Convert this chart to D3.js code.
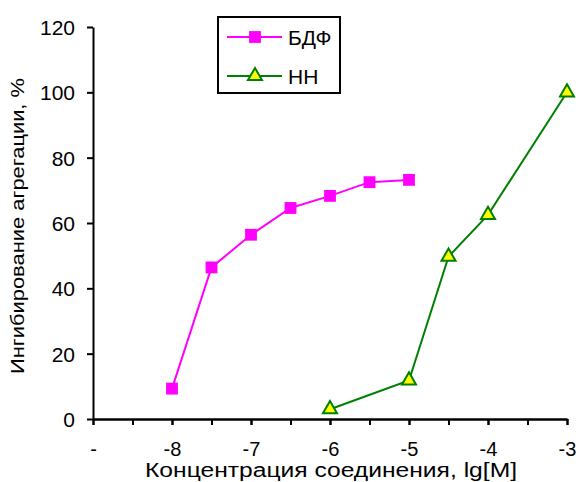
<!DOCTYPE html>
<html>
<head>
<meta charset="utf-8">
<script src="https://cdn.jsdelivr.net/npm/d3@7"></script>
<style>
  body { margin: 0; background: #fff; }
  text { font-family: "Liberation Sans", Arial, sans-serif; fill: #000; }
</style>
</head>
<body>
<svg id="drawing_region"></svg>
<script>
// data
const bdf_x = [-8, -7.5, -7, -6.5, -6, -5.5, -5];
const bdf_y = [9.3, 46.4, 56.4, 64.6, 68.3, 72.5, 73.2];
const nn_x = [-6, -5, -4.5, -4, -3];
const nn_y = [3, 11.8, 49.7, 62.5, 100];
const series_names = ['БДФ', 'НН'];
const x_ticks = [-9, -8, -7, -6, -5, -4, -3];
const x_tick_labels = ['-', '-8', '-7', '-6', '-5', '-4', '-3'];
const y_ticks = [0, 20, 40, 60, 80, 100, 120];

const width = 579, height = 482;
const margin = {top: 27, right: 12, bottom: 63, left: 93};

const svg = d3.select('#drawing_region')
    .attr('width', width)
    .attr('height', height);

const chart = svg.append('g')
    .attr('transform', `translate(${margin.left}, ${margin.top})`);

const inner_height = height - margin.top - margin.bottom;

const x_scale = d3.scaleLinear()
    .domain([-9, -3])
    .range([0, 474]);

const y_scale = d3.scaleLinear()
    .domain([0, 120])
    .range([inner_height, 0]);

// x axis: ticks every 0.5, labels every 1
const xaxis_minor = d3.axisBottom(x_scale)
    .tickValues(d3.range(-9, -2.99, 0.5))
    .tickSize(6).tickSizeOuter(0).tickFormat('');

const xaxis = d3.axisBottom(x_scale)
    .tickValues(x_ticks)
    .tickSize(6).tickSizeOuter(0).tickPadding(17)
    .tickFormat((d, i) => x_tick_labels[i]);

const yaxis = d3.axisLeft(y_scale)
    .tickValues(y_ticks)
    .tickSize(6).tickSizeOuter(0).tickPadding(12);

const xg = chart.append('g')
    .attr('transform', `translate(0, ${inner_height})`)
    .call(xaxis);
chart.append('g')
    .attr('transform', `translate(0, ${inner_height})`)
    .call(xaxis_minor);
const yg = chart.append('g').call(yaxis);

chart.selectAll('.domain').attr('stroke', '#000').attr('stroke-width', 2);
chart.selectAll('.tick line').attr('stroke', '#000').attr('stroke-width', 2);

xg.selectAll('text').style('font-size', '20px');
yg.selectAll('text').style('font-size', '21px').attr('dy', '0.36em');

// axis titles
svg.append('text')
    .attr('x', 145)
    .attr('y', 477)
    .attr('textLength', 372)
    .attr('lengthAdjust', 'spacingAndGlyphs')
    .style('font-size', '20px')
    .text('Концентрация соединения, lg[M]');

svg.append('text')
    .attr('transform', `translate(24, 374) rotate(-90)`)
    .attr('textLength', 296)
    .attr('lengthAdjust', 'spacingAndGlyphs')
    .style('font-size', '19px')
    .text('Ингибирование агрегации, %');

// lines
const line = d3.line()
    .x(d => x_scale(d[0]))
    .y(d => y_scale(d[1]));

const bdf = bdf_x.map((x, i) => [x, bdf_y[i]]);
const nn = nn_x.map((x, i) => [x, nn_y[i]]);

chart.append('path')
    .datum(bdf)
    .attr('d', line)
    .attr('fill', 'none')
    .attr('stroke', '#ff00ff')
    .attr('stroke-width', 2);

chart.append('path')
    .datum(nn)
    .attr('d', line)
    .attr('fill', 'none')
    .attr('stroke', '#008000')
    .attr('stroke-width', 2);

const square = d3.symbol().type(d3.symbolSquare).size(140);
const triangle = d3.symbol().type(d3.symbolTriangle).size(85);

chart.selectAll('.bdf_pt')
    .data(bdf)
    .enter()
    .append('path')
    .attr('class', 'bdf_pt')
    .attr('transform', d => `translate(${x_scale(d[0])}, ${y_scale(d[1])})`)
    .attr('d', square)
    .attr('fill', '#ff00ff');

chart.selectAll('.nn_pt')
    .data(nn)
    .enter()
    .append('path')
    .attr('class', 'nn_pt')
    .attr('transform', d => `translate(${x_scale(d[0])}, ${y_scale(d[1])})`)
    .attr('d', triangle)
    .attr('fill', '#ffff00')
    .attr('stroke', '#008000')
    .attr('stroke-width', 2);

// legend
const legend = svg.append('g').attr('transform', 'translate(218, 17)');
legend.append('rect')
    .attr('width', 122).attr('height', 76)
    .attr('fill', '#fff')
    .attr('stroke', '#000')
    .attr('stroke-width', 2);

const legend_items = [
    {name: series_names[0], color: '#ff00ff', sym: square, fill: '#ff00ff', stroke: 'none'},
    {name: series_names[1], color: '#008000', sym: triangle, fill: '#ffff00', stroke: '#008000'}
];

legend_items.forEach((item, i) => {
    const row = legend.append('g').attr('transform', `translate(0, ${20 + i * 39})`);
    row.append('line')
        .attr('x1', 9).attr('x2', 64)
        .attr('stroke', item.color).attr('stroke-width', 2);
    row.append('path')
        .attr('transform', 'translate(37, 0)')
        .attr('d', item.sym)
        .attr('fill', item.fill)
        .attr('stroke', item.stroke)
        .attr('stroke-width', 2);
    row.append('text')
        .attr('x', 70).attr('y', 0).attr('dy', '0.36em')
        .style('font-size', '21px')
        .text(item.name);
});
</script>
</body>
</html>
